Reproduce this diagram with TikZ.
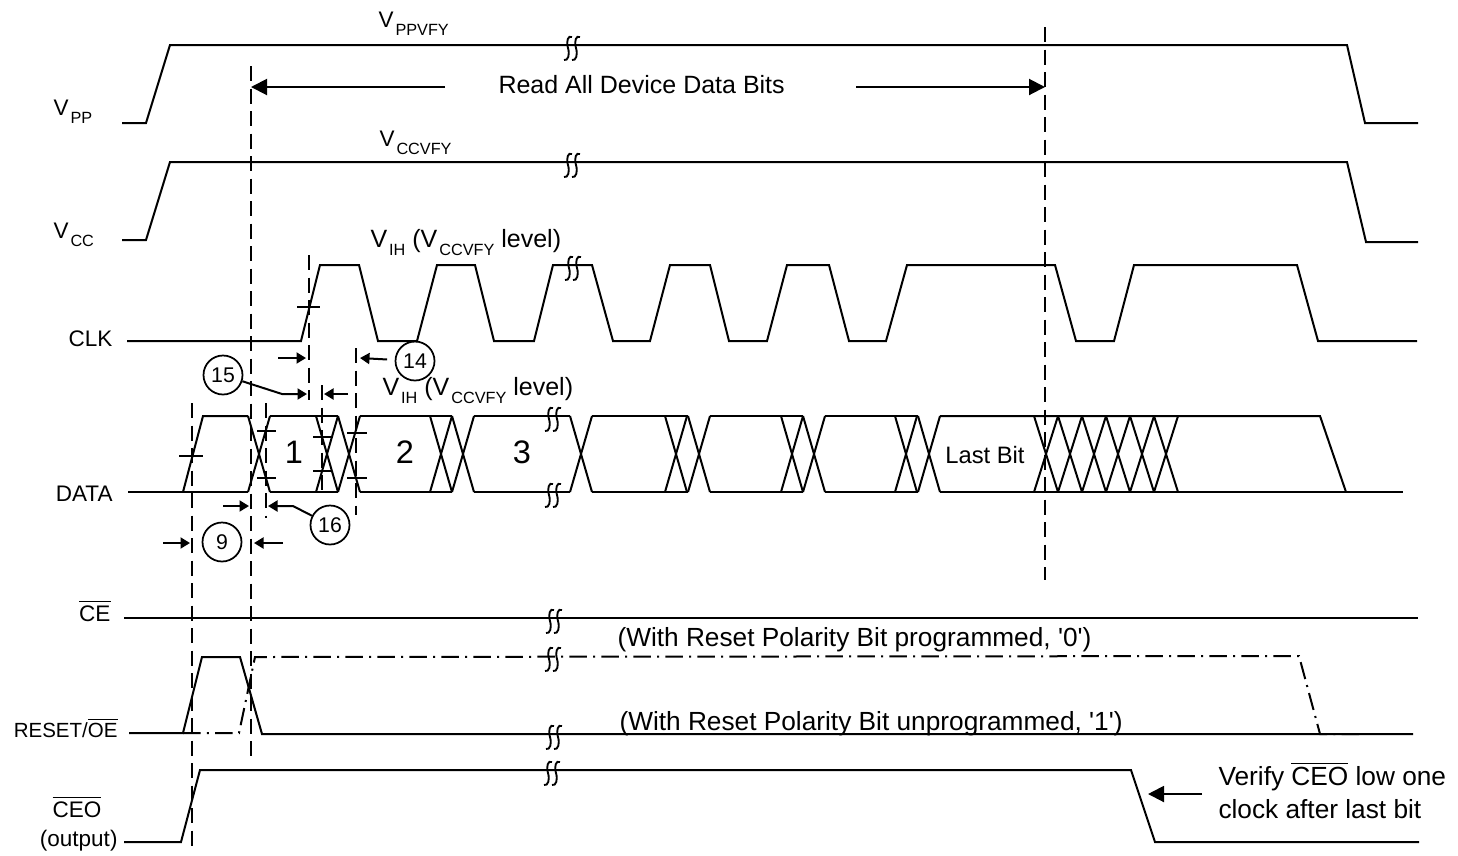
\documentclass[tikz,border=0pt]{standalone}
\usepackage{fontspec}
\setmainfont{Liberation Sans}
\usetikzlibrary{arrows.meta}

\newcommand{\ovl}[1]{$\overline{\mbox{#1}}$}
\newcommand{\vsub}[2]{#1\hspace{0.8pt}\raisebox{-3.2pt}{\fontsize{6.5}{7}\selectfont #2}}

\begin{document}
\begin{tikzpicture}[x=0.4pt,y=-0.4pt,
        sig/.style={line width=0.8pt},
        guide/.style={line width=0.7pt,dash pattern=on 6pt off 3pt},
        dashdot/.style={line width=0.8pt,dash pattern=on 7pt off 2.5pt on 0.8pt off 2.5pt},
        num/.style={circle,draw,line width=0.7pt,minimum size=15.6pt,inner sep=0pt,
            font=\fontsize{8.5}{10}\selectfont},
        lbl/.style={inner sep=0pt,font=\fontsize{9}{11}\selectfont},
        txt/.style={inner sep=0pt,anchor=base west,font=\fontsize{10.5}{12}\selectfont},
        arr/.style={line width=0.8pt,-{Triangle[length=3.8pt,width=4.4pt]}},
        bigarr/.style={line width=0.8pt,-{Triangle[length=6.4pt,width=6.4pt]}},
        pics/snip/.style={code={
            \draw[line width=0.75pt] (0,-8) .. controls (-4,-10) and (-6,-4) .. (-4,3)
                .. controls (-2,10) and (-4,16) .. (-8,15);
            \draw[line width=0.75pt] (8,-8) .. controls (4,-10) and (2,-4) .. (4,3)
                .. controls (6,10) and (4,16) .. (0,15);}}]
\fill[white] (0,0) rectangle (1458,855);
\useasboundingbox (0,0) rectangle (1458,855);

% signal names
\node[lbl,anchor=base west] (vpp) at (53,115) {\vsub{V}{PP}};
\node[lbl,anchor=base west] (vcc) at (53,238) {\vsub{V}{CC}};
\node[lbl,anchor=base east] (clk) at (113,346) {CLK};
\node[lbl,anchor=base east] (data) at (113,501) {DATA};
\node[lbl,anchor=base east] (ce) at (111,621) {\ovl{CE}};
\node[lbl,anchor=base east,font=\fontsize{8.2}{10}\selectfont] (rst) at (118,737) {RESET/\ovl{OE}};
\node[lbl,anchor=base] (ceo) at (77,817) {\ovl{CEO}};
\node[lbl,anchor=base east] (outp) at (118,846) {(output)};

% levels
\node[lbl,anchor=base west] (ppvfy) at (378,27) {\vsub{V}{PPVFY}};
\node[lbl,anchor=base west] (ccvfy) at (379,146) {\vsub{V}{CCVFY}};
\node[txt,font=\fontsize{10}{12}\selectfont] (vih1) at (370,247) {\vsub{V}{IH} (\vsub{V}{CCVFY} level)};
\node[txt,font=\fontsize{10}{12}\selectfont] (vih2) at (382,395) {\vsub{V}{IH} (\vsub{V}{CCVFY} level)};

% VPP and VCC
\draw[sig] (122,123) -- (146,123) -- (170,45) -- (1347,45) -- (1365,123) -- (1418,123);
\draw[sig] (122,240) -- (146,240) -- (170,162) -- (1347,162) -- (1366,242) -- (1418,242);

% read all bits
\node[txt,font=\fontsize{10}{12}\selectfont] (read) at (498,93) {Read All Device Data Bits};
\coordinate (readL) at (445,87);
\coordinate (readLt) at (251,87);
\coordinate (readR) at (856,87);
\coordinate (readRt) at (1045,87);
\draw[bigarr] (readL) -- (readLt);
\draw[bigarr] (readR) -- (readRt);

% CLK
\draw[sig] (127,341) -- (301,341) -- (320,265) -- (359,265) -- (378,341) -- (417,341)
    -- (437,265) -- (475,265) -- (494,341) -- (534,341) -- (553,265) -- (592,265)
    -- (613,341) -- (650,341) -- (670,265) -- (710,265) -- (729,341) -- (767,341)
    -- (787,265) -- (829,265) -- (849,341) -- (886,341) -- (907,265) -- (1055,265)
    -- (1076,341) -- (1114,341) -- (1134,265) -- (1297,265) -- (1318,341) -- (1417,341);

% DATA
\draw[sig] (128,492) -- (248,492);
\draw[sig] (183,492) -- (203,416) -- (248,416);
\foreach \a/\b in {270/338,360/452,474/570,592/688,710/803,825/918}
    \draw[sig] (\a,416) -- (\b,416) (\a,492) -- (\b,492);
\draw[sig] (940,416) -- (1320,416) -- (1346,492);
\draw[sig] (940,492) -- (1403,492);
\foreach \a in {248,316,338,430,452,570,665,688,781,803,895,918}
    \draw[sig] (\a,416) -- ++(22,76) (\a,492) -- ++(22,-76);
\foreach \a in {1034,1058,1082,1106,1130,1154}
    \draw[sig] (\a,416) -- ++(24,76) (\a,492) -- ++(24,-76);
\node[font=\fontsize{13}{15}\selectfont] (bit1) at (294,452) {1};
\node[font=\fontsize{13}{15}\selectfont] (bit2) at (405,452) {2};
\node[font=\fontsize{13}{15}\selectfont] (bit3) at (522,452) {3};
\node[font=\fontsize{9.5}{11}\selectfont] (lastbit) at (985,455) {Last Bit};

% CE, RESET/OE, CEO
\draw[sig] (124,618) -- (1418,618);
\draw[sig] (129,733) -- (183,733) -- (202,657) -- (240,657) -- (262,734) -- (1413,734);
\draw[dashdot] (183,733) -- (239,733) -- (255,657) -- (1299,656) -- (1320,734) -- (1364,734);
\draw[sig] (124,842) -- (181,842) -- (200,770) -- (1131,770) -- (1155,842) -- (1419,842);
\node[txt] (pol0) at (617,646) {(With Reset Polarity Bit programmed, \textquotesingle 0\textquotesingle)};
\node[txt] (pol1) at (619,730) {(With Reset Polarity Bit unprogrammed, \textquotesingle 1\textquotesingle)};

% break marks
\pic at (572,45) {snip};
\pic at (572,162) {snip};
\pic at (573,265) {snip};
\pic at (553,416) {snip};
\pic at (553,492) {snip};
\pic at (554,618) {snip};
\pic at (553,656) {snip};
\pic at (554,734) {snip};
\pic at (552,770) {snip};

% timing guides
\draw[guide] (192,403) -- (192,848);
\draw[guide] (251,66) -- (251,757);
\draw[guide] (266,403) -- (266,518);
\draw[guide] (309,255) -- (309,400);
\draw[guide] (322,385) -- (322,497);
\draw[guide] (356,348) -- (356,515);
\draw[guide] (1045,27) -- (1045,580);

\draw[sig] (297,307) -- (320,307);
\draw[sig] (179,456) -- (203,456);
\draw[sig] (257,431) -- (276,431) (257,478) -- (276,478);
\draw[sig] (313,437) -- (331,437) (313,471) -- (331,471);
\draw[sig] (347,433) -- (367,433) (347,478) -- (367,478);

% timing numbers
\node[num] (n15) at (223,375) {15};
\node[num] (n14) at (415,361) {14};
\node[num] (n16) at (330,525) {16};
\node[num] (n9) at (222,542) {9};

\coordinate (k15) at (282,394);
\coordinate (t15) at (307,394);
\draw[arr] (n15) -- (k15) -- (t15);
\coordinate (s15b) at (348,394);
\coordinate (t15b) at (324,394);
\draw[arr] (s15b) -- (t15b);
\coordinate (s14) at (278,358);
\coordinate (t14) at (306,358);
\draw[arr] (s14) -- (t14);
\coordinate (t14b) at (360,358);
\draw[arr,shorten <=3pt] (n14) -- (t14b);
\coordinate (k16) at (293,506);
\coordinate (t16) at (268,506);
\draw[arr] (n16) -- (k16) -- (t16);
\coordinate (s16b) at (223,506);
\coordinate (t16b) at (249,506);
\draw[arr] (s16b) -- (t16b);
\coordinate (s9) at (163,543);
\coordinate (t9) at (190,543);
\draw[arr] (s9) -- (t9);
\coordinate (s9b) at (283,543);
\coordinate (t9b) at (254,543);
\draw[arr] (s9b) -- (t9b);

% note on CEO
\node[txt] (vfy1) at (1218,785) {Verify \ovl{CEO} low one};
\node[txt] (vfy2) at (1218,818) {clock after last bit};
\coordinate (sv) at (1202,794);
\coordinate (tv) at (1148,794);
\draw[bigarr] (sv) -- (tv);
\end{tikzpicture}
\end{document}
